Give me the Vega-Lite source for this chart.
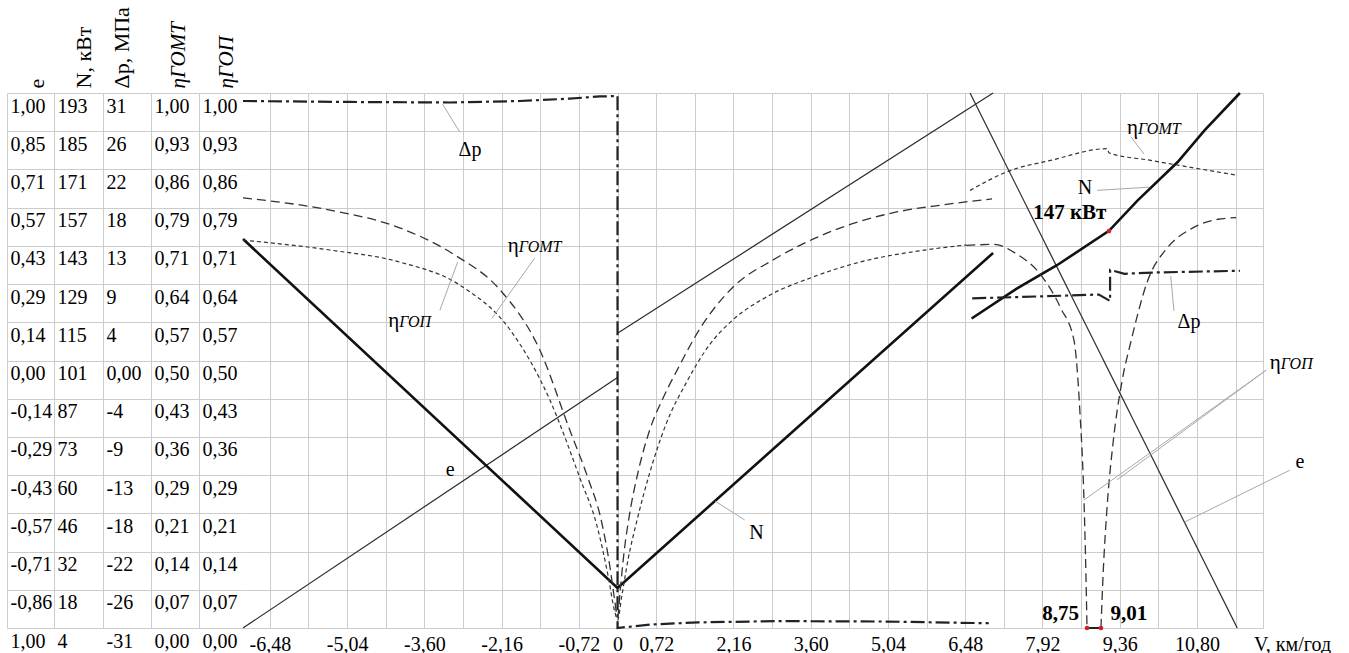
{
  "$schema": "https://vega.github.io/schema/vega-lite/v6.json",
  "width": 1020,
  "height": 535,
  "autosize": "none",
  "padding": {"left": 243, "top": 93, "right": 86, "bottom": 25},
  "background": "white",
  "config": {
    "font": "Liberation Serif",
    "view": {"stroke": null},
    "text": {"font": "Liberation Serif", "color": "#000"},
    "axis": {"labelFont": "Liberation Serif", "labelFontSize": 20, "labelColor": "#000", "titleFont": "Liberation Serif", "titleFontWeight": "normal", "titleColor": "#000", "labelFlush": false, "labelOverlap": false}
  },
  "data": {"values": [
    {"s":"e","g":1,"x":-6.98,"v":-1},
    {"s":"e","g":1,"x":0,"v":-0.064},
    {"s":"e","g":2,"x":0,"v":0.102},
    {"s":"e","g":2,"x":7.0,"v":1},
    {"s":"e","g":3,"x":6.57,"v":1},
    {"s":"e","g":3,"x":11.55,"v":-1},

    {"s":"N","g":1,"x":-6.98,"v":146.5},
    {"s":"N","g":1,"x":0,"v":18.7},
    {"s":"N","g":1,"x":7.0,"v":141.4},
    {"s":"N","g":2,"x":6.6,"v":117.4},
    {"s":"N","g":2,"x":7.44,"v":128.3},
    {"s":"N","g":2,"x":8.19,"v":136.9},
    {"s":"N","g":2,"x":9.16,"v":149.5},
    {"s":"N","g":2,"x":9.69,"v":160.6},
    {"s":"N","g":2,"x":10.44,"v":174.7},
    {"s":"N","g":2,"x":10.94,"v":186.3},
    {"s":"N","g":2,"x":11.6,"v":200},

    {"s":"dp","g":1,"x":-6.98,"v":30.07},
    {"s":"dp","g":1,"x":-4.99,"v":29.96},
    {"s":"dp","g":1,"x":-3.12,"v":29.9},
    {"s":"dp","g":1,"x":-1.82,"v":30.07},
    {"s":"dp","g":1,"x":-0.89,"v":30.35},
    {"s":"dp","g":1,"x":-0.33,"v":30.6},
    {"s":"dp","g":1,"x":0,"v":30.65},
    {"s":"dp","g":1,"x":0,"v":-31},
    {"s":"dp","g":1,"x":0.6,"v":-30.6},
    {"s":"dp","g":1,"x":1.5,"v":-30.35},
    {"s":"dp","g":1,"x":3.0,"v":-30.2},
    {"s":"dp","g":1,"x":5.0,"v":-30.25},
    {"s":"dp","g":1,"x":6.92,"v":-30.45},
    {"s":"dp","g":2,"x":6.61,"v":7.2},
    {"s":"dp","g":2,"x":8.0,"v":7.45},
    {"s":"dp","g":2,"x":8.97,"v":7.65},
    {"s":"dp","g":2,"x":9.18,"v":6.9},
    {"s":"dp","g":2,"x":9.18,"v":10.5},
    {"s":"dp","g":2,"x":9.45,"v":10.05},
    {"s":"dp","g":2,"x":10.0,"v":10.2},
    {"s":"dp","g":2,"x":11.6,"v":10.4},

    {"s":"gomt","g":1,"x":-6.98,"v":0.725},
    {"s":"gomt","g":1,"x":-5.36,"v":0.7065},
    {"s":"gomt","g":1,"x":-4.06,"v":0.684},
    {"s":"gomt","g":1,"x":-2.94,"v":0.641},
    {"s":"gomt","g":1,"x":-2.0,"v":0.557},
    {"s":"gomt","g":1,"x":-1.26,"v":0.426},
    {"s":"gomt","g":1,"x":-0.7,"v":0.28},
    {"s":"gomt","g":1,"x":-0.38,"v":0.19},
    {"s":"gomt","g":1,"x":-0.18,"v":0.1},
    {"s":"gomt","g":1,"x":-0.05,"v":0.03},
    {"s":"gomt","g":1,"x":0,"v":0.015},
    {"s":"gomt","g":1,"x":0.08,"v":0.06},
    {"s":"gomt","g":1,"x":0.2,"v":0.13},
    {"s":"gomt","g":1,"x":0.36,"v":0.2},
    {"s":"gomt","g":1,"x":0.6,"v":0.29},
    {"s":"gomt","g":1,"x":0.9,"v":0.38},
    {"s":"gomt","g":1,"x":1.29,"v":0.46},
    {"s":"gomt","g":1,"x":1.72,"v":0.53},
    {"s":"gomt","g":1,"x":2.15,"v":0.576},
    {"s":"gomt","g":1,"x":2.78,"v":0.619},
    {"s":"gomt","g":1,"x":3.64,"v":0.656},
    {"s":"gomt","g":1,"x":4.52,"v":0.684},
    {"s":"gomt","g":1,"x":5.77,"v":0.707},
    {"s":"gomt","g":1,"x":6.5,"v":0.716},
    {"s":"gomt","g":2,"x":6.57,"v":0.818},
    {"s":"gomt","g":2,"x":7.32,"v":0.855},
    {"s":"gomt","g":2,"x":8.07,"v":0.874},
    {"s":"gomt","g":2,"x":9.13,"v":0.896},
    {"s":"gomt","g":2,"x":9.16,"v":0.888},
    {"s":"gomt","g":2,"x":9.94,"v":0.874},
    {"s":"gomt","g":2,"x":11.56,"v":0.846},

    {"s":"gop","g":1,"x":-6.98,"v":0.804},
    {"s":"gop","g":1,"x":-5.36,"v":0.781},
    {"s":"gop","g":1,"x":-4.06,"v":0.748},
    {"s":"gop","g":1,"x":-3.03,"v":0.697},
    {"s":"gop","g":1,"x":-2.19,"v":0.632},
    {"s":"gop","g":1,"x":-1.45,"v":0.52},
    {"s":"gop","g":1,"x":-0.89,"v":0.37},
    {"s":"gop","g":1,"x":-0.55,"v":0.28},
    {"s":"gop","g":1,"x":-0.3,"v":0.2},
    {"s":"gop","g":1,"x":-0.15,"v":0.12},
    {"s":"gop","g":1,"x":-0.05,"v":0.05},
    {"s":"gop","g":1,"x":0,"v":0.02},
    {"s":"gop","g":1,"x":0.05,"v":0.07},
    {"s":"gop","g":1,"x":0.12,"v":0.14},
    {"s":"gop","g":1,"x":0.22,"v":0.21},
    {"s":"gop","g":1,"x":0.38,"v":0.29},
    {"s":"gop","g":1,"x":0.6,"v":0.37},
    {"s":"gop","g":1,"x":0.85,"v":0.43},
    {"s":"gop","g":1,"x":1.1,"v":0.48},
    {"s":"gop","g":1,"x":1.54,"v":0.56},
    {"s":"gop","g":1,"x":2.15,"v":0.637},
    {"s":"gop","g":1,"x":2.9,"v":0.688},
    {"s":"gop","g":1,"x":3.9,"v":0.738},
    {"s":"gop","g":1,"x":5.13,"v":0.776},
    {"s":"gop","g":1,"x":6.07,"v":0.791},
    {"s":"gop","g":1,"x":6.98,"v":0.802},
    {"s":"gop","g":2,"x":6.5,"v":0.715},
    {"s":"gop","g":2,"x":7.01,"v":0.717},
    {"s":"gop","g":2,"x":7.44,"v":0.699},
    {"s":"gop","g":2,"x":7.88,"v":0.661},
    {"s":"gop","g":2,"x":8.26,"v":0.598},
    {"s":"gop","g":2,"x":8.51,"v":0.536},
    {"s":"gop","g":2,"x":8.62,"v":0.4},
    {"s":"gop","g":2,"x":8.69,"v":0.25},
    {"s":"gop","g":2,"x":8.73,"v":0.1},
    {"s":"gop","g":2,"x":8.75,"v":0},
    {"s":"gop","g":3,"x":9.01,"v":0},
    {"s":"gop","g":3,"x":9.05,"v":0.1},
    {"s":"gop","g":3,"x":9.12,"v":0.22},
    {"s":"gop","g":3,"x":9.24,"v":0.35},
    {"s":"gop","g":3,"x":9.4,"v":0.46},
    {"s":"gop","g":3,"x":9.57,"v":0.536},
    {"s":"gop","g":3,"x":9.88,"v":0.649},
    {"s":"gop","g":3,"x":10.25,"v":0.711},
    {"s":"gop","g":3,"x":10.69,"v":0.746},
    {"s":"gop","g":3,"x":11.19,"v":0.764},
    {"s":"gop","g":3,"x":11.53,"v":0.767},

    {"s":"lead","x":-2.94,"v":0.927,"x2":-3.26,"v2":0.979},
    {"s":"lead","x":-1.54,"v":0.692,"x2":-2.34,"v2":0.579},
    {"s":"lead","x":-3.31,"v":0.594,"x2":-2.98,"v2":0.684},
    {"s":"lead","x":2.37,"v":0.202,"x2":1.82,"v2":0.237},
    {"s":"lead","x":9.57,"v":0.918,"x2":9.81,"v2":0.886},
    {"s":"lead","x":8.94,"v":0.818,"x2":9.91,"v2":0.824},
    {"s":"lead","x":10.31,"v":0.658,"x2":10.37,"v2":0.593},
    {"s":"lead","x":12.09,"v":0.482,"x2":8.69,"v2":0.239},
    {"s":"lead","x":12.09,"v":0.482,"x2":9.31,"v2":0.277},
    {"s":"lead","x":12.53,"v":0.295,"x2":10.57,"v2":0.198},

    {"s":"txt","x":-2.75,"v":0.893,"t":"Δp"},
    {"s":"txt","x":-3.12,"v":0.295,"t":"e"},
    {"s":"txt","x":2.59,"v":0.178,"t":"N"},
    {"s":"txt","x":8.71,"v":0.822,"t":"N"},
    {"s":"txt","x":10.65,"v":0.572,"t":"Δp"},
    {"s":"txt","x":12.72,"v":0.31,"t":"e"},

    {"s":"etl","x":-1.84,"v":0.703,"t1":"η","t2":"ГОМТ"},
    {"s":"etl","x":-4.07,"v":0.563,"t1":"η","t2":"ГОП"},
    {"s":"etl","x":9.7,"v":0.923,"t1":"η","t2":"ГОМТ"},
    {"s":"etl","x":12.36,"v":0.484,"t1":"η","t2":"ГОП"},

    {"s":"bold","x":8.43,"v":0.776,"t":"147 кВт"},
    {"s":"bold","x":8.26,"v":0.026,"t":"8,75"},
    {"s":"bold","x":9.53,"v":0.026,"t":"9,01"},

    {"s":"seg","x":8.75,"v":0,"x2":9.01,"v2":0},
    {"s":"dot","x":8.75,"v":0},
    {"s":"dot","x":9.01,"v":0},
    {"s":"dot","x":9.16,"v":0.742}
  ]},
  "encoding": {
    "x": {
      "field": "x", "type": "quantitative",
      "scale": {"domain": [-6.98, 12.03], "nice": false, "zero": false},
      "axis": {
        "values": [-6.48,-5.76,-5.04,-4.32,-3.6,-2.88,-2.16,-1.44,-0.72,0,0.72,1.44,2.16,2.88,3.6,4.32,5.04,5.76,6.48,7.2,7.92,8.64,9.36,10.08,10.8,11.52,12.03],
        "labelExpr": "['-6,48','','-5,04','','-3,60','','-2,16','','-0,72','0','0,72','','2,16','','3,60','','5,04','','6,48','','7,92','','9,36','','10,80','',''][round(datum.value/0.72)+9]",
        "grid": true, "gridColor": "#cccccc", "gridWidth": 1,
        "domain": false, "ticks": false, "tickSize": 0, "labelPadding": 6,
        "labelFont": "Liberation Serif", "titleFont": "Liberation Serif",
        "title": "V, км/год", "titleX": 1049, "titleY": 6, "titleAlign": "center", "titleBaseline": "top", "titleFontSize": 20
      }
    }
  },
  "layer": [
    {
      "transform": [{"filter": "datum.s == 'e'"}],
      "mark": {"type": "line", "color": "#2a2a2a", "strokeWidth": 1.2},
      "encoding": {
        "y": {"field": "v", "type": "quantitative", "scale": {"domain": [-1, 1], "nice": false, "zero": false},
          "axis": {"orient": "left", "offset": 236,
            "values": [-1,-0.8571429,-0.7142857,-0.5714286,-0.4285714,-0.2857143,-0.1428571,0,0.1428571,0.2857143,0.4285714,0.5714286,0.7142857,0.8571429,1],
            "labelExpr": "['1,00','-0,86','-0,71','-0,57','-0,43','-0,29','-0,14','0,00','0,14','0,29','0,43','0,57','0,71','0,85','1,00'][round((datum.value+1)*7)]",
            "labelAlign": "left", "labelBaseline": "top", "labelOffset": 3, "labelPadding": -3,
            "labelFont": "Liberation Serif", "titleFont": "Liberation Serif",
            "ticks": false, "tickSize": 0, "grid": false, "domainColor": "#cccccc",
            "title": "e", "titleAngle": 270, "titleAlign": "left", "titleBaseline": "middle", "titleX": 29, "titleY": -5, "titleFontSize": 22}},
        "detail": {"field": "g"},
        "order": {"value": null}
      }
    },
    {
      "transform": [{"filter": "datum.s == 'N'"}],
      "mark": {"type": "line", "color": "#111111", "strokeWidth": 2.6},
      "encoding": {
        "y": {"field": "v", "type": "quantitative", "scale": {"domain": [4, 200], "nice": false, "zero": false},
          "axis": {"orient": "left", "offset": 189,
            "values": [4,18,32,46,60,74,88,102,116,130,144,158,172,186,200],
            "labelExpr": "['4','18','32','46','60','73','87','101','115','129','143','157','171','185','193'][round((datum.value-4)/14)]",
            "labelAlign": "left", "labelBaseline": "top", "labelOffset": 3, "labelPadding": -3,
            "labelFont": "Liberation Serif", "titleFont": "Liberation Serif",
            "ticks": false, "tickSize": 0, "grid": false, "domainColor": "#cccccc",
            "title": "N, кВт", "titleAngle": 270, "titleAlign": "left", "titleBaseline": "middle", "titleX": 29, "titleY": -5, "titleFontSize": 22}},
        "detail": {"field": "g"},
        "order": {"value": null}
      }
    },
    {
      "transform": [{"filter": "datum.s == 'dp'"}],
      "mark": {"type": "line", "color": "#222222", "strokeWidth": 2.2, "strokeDash": [14, 4, 3, 4]},
      "encoding": {
        "y": {"field": "v", "type": "quantitative", "scale": {"domain": [-31, 31], "nice": false, "zero": false},
          "axis": {"orient": "left", "offset": 140,
            "values": [-31,-26.571429,-22.142857,-17.714286,-13.285714,-8.857143,-4.428571,0,4.428571,8.857143,13.285714,17.714286,22.142857,26.571429,31],
            "labelExpr": "['-31','-26','-22','-18','-13','-9','-4','0,00','4','9','13','18','22','26','31'][round((datum.value+31)*14/62)]",
            "labelAlign": "left", "labelBaseline": "top", "labelOffset": 3, "labelPadding": -3,
            "labelFont": "Liberation Serif", "titleFont": "Liberation Serif",
            "ticks": false, "tickSize": 0, "grid": false, "domainColor": "#cccccc",
            "title": "Δp, МПа", "titleAngle": 270, "titleAlign": "left", "titleBaseline": "middle", "titleX": 18, "titleY": -5, "titleFontSize": 22}},
        "detail": {"field": "g"},
        "order": {"value": null}
      }
    },
    {
      "transform": [{"filter": "datum.s == 'gomt'"}],
      "mark": {"type": "line", "color": "#333333", "strokeWidth": 1.2, "strokeDash": [4, 3], "interpolate": "monotone"},
      "encoding": {
        "y": {"field": "v", "type": "quantitative", "scale": {"domain": [0, 1], "nice": false, "zero": false},
          "axis": {"orient": "left", "offset": 92,
            "values": [0,0.0714286,0.1428571,0.2142857,0.2857143,0.3571429,0.4285714,0.5,0.5714286,0.6428571,0.7142857,0.7857143,0.8571429,0.9285714,1],
            "labelExpr": "['0,00','0,07','0,14','0,21','0,29','0,36','0,43','0,50','0,57','0,64','0,71','0,79','0,86','0,93','1,00'][round(datum.value*14)]",
            "labelAlign": "left", "labelBaseline": "top", "labelOffset": 3, "labelPadding": -3,
            "labelFont": "Liberation Serif", "titleFont": "Liberation Serif",
            "ticks": false, "tickSize": 0, "grid": false, "domainColor": "#cccccc",
            "title": "ηГОМТ", "titleFontStyle": "italic", "titleAngle": 270, "titleAlign": "left", "titleBaseline": "middle", "titleX": 27, "titleY": -5, "titleFontSize": 21}},
        "detail": {"field": "g"},
        "order": {"value": null}
      }
    },
    {
      "transform": [{"filter": "datum.s == 'gop'"}],
      "mark": {"type": "line", "color": "#333333", "strokeWidth": 1.3, "strokeDash": [9, 5], "interpolate": "monotone"},
      "encoding": {
        "y": {"field": "v", "type": "quantitative", "scale": {"domain": [0, 1], "nice": false, "zero": false},
          "axis": {"orient": "left", "offset": 44,
            "values": [0,0.0714286,0.1428571,0.2142857,0.2857143,0.3571429,0.4285714,0.5,0.5714286,0.6428571,0.7142857,0.7857143,0.8571429,0.9285714,1],
            "labelExpr": "['0,00','0,07','0,14','0,21','0,29','0,36','0,43','0,50','0,57','0,64','0,71','0,79','0,86','0,93','1,00'][round(datum.value*14)]",
            "labelAlign": "left", "labelBaseline": "top", "labelOffset": 3, "labelPadding": -3,
            "labelFont": "Liberation Serif", "titleFont": "Liberation Serif",
            "ticks": false, "tickSize": 0, "grid": false, "domainColor": "#cccccc",
            "title": "ηГОП", "titleFontStyle": "italic", "titleAngle": 270, "titleAlign": "left", "titleBaseline": "middle", "titleX": 27, "titleY": -5, "titleFontSize": 21}},
        "detail": {"field": "g"},
        "order": {"value": null}
      }
    },
    {
      "transform": [{"filter": "datum.s == 'lead'"}],
      "mark": {"type": "rule", "color": "#a8a8a8", "strokeWidth": 1},
      "encoding": {
        "y": {"field": "v", "type": "quantitative", "scale": {"domain": [0, 1], "nice": false, "zero": false},
          "axis": {"orient": "left", "offset": 0,
            "values": [0,0.0714286,0.1428571,0.2142857,0.2857143,0.3571429,0.4285714,0.5,0.5714286,0.6428571,0.7142857,0.7857143,0.8571429,0.9285714,1],
            "labels": false, "domain": false, "ticks": true, "tickSize": 236, "tickColor": "#cccccc",
            "grid": true, "gridColor": "#cccccc", "title": null}},
        "y2": {"field": "v2"},
        "x2": {"field": "x2"}
      }
    },
    {
      "transform": [{"filter": "datum.s == 'txt'"}],
      "mark": {"type": "text", "font": "Liberation Serif", "fontSize": 20, "align": "center", "baseline": "middle"},
      "encoding": {
        "y": {"field": "v", "type": "quantitative", "scale": {"domain": [0, 1], "nice": false, "zero": false}, "axis": null},
        "text": {"field": "t"}
      }
    },
    {
      "transform": [{"filter": "datum.s == 'etl'"}],
      "mark": {"type": "text", "font": "Liberation Serif", "fontSize": 21, "align": "right", "baseline": "alphabetic"},
      "encoding": {
        "y": {"field": "v", "type": "quantitative", "scale": {"domain": [0, 1], "nice": false, "zero": false}, "axis": null},
        "text": {"field": "t1"}
      }
    },
    {
      "transform": [{"filter": "datum.s == 'etl'"}],
      "mark": {"type": "text", "font": "Liberation Serif", "fontSize": 16, "fontStyle": "italic", "align": "left", "baseline": "alphabetic"},
      "encoding": {
        "y": {"field": "v", "type": "quantitative", "scale": {"domain": [0, 1], "nice": false, "zero": false}, "axis": null},
        "text": {"field": "t2"}
      }
    },
    {
      "transform": [{"filter": "datum.s == 'bold'"}],
      "mark": {"type": "text", "font": "Liberation Serif", "fontSize": 21, "fontWeight": "bold", "align": "center", "baseline": "middle"},
      "encoding": {
        "y": {"field": "v", "type": "quantitative", "scale": {"domain": [0, 1], "nice": false, "zero": false}, "axis": null},
        "text": {"field": "t"}
      }
    },
    {
      "transform": [{"filter": "datum.s == 'seg'"}],
      "mark": {"type": "rule", "color": "#222222", "strokeWidth": 2},
      "encoding": {
        "y": {"field": "v", "type": "quantitative", "scale": {"domain": [0, 1], "nice": false, "zero": false}, "axis": null},
        "y2": {"field": "v2"},
        "x2": {"field": "x2"}
      }
    },
    {
      "transform": [{"filter": "datum.s == 'dot'"}],
      "mark": {"type": "point", "filled": true, "color": "#d42020", "size": 22, "opacity": 1},
      "encoding": {
        "y": {"field": "v", "type": "quantitative", "scale": {"domain": [0, 1], "nice": false, "zero": false}, "axis": null}
      }
    }
  ],
  "resolve": {"scale": {"y": "independent"}}
}
